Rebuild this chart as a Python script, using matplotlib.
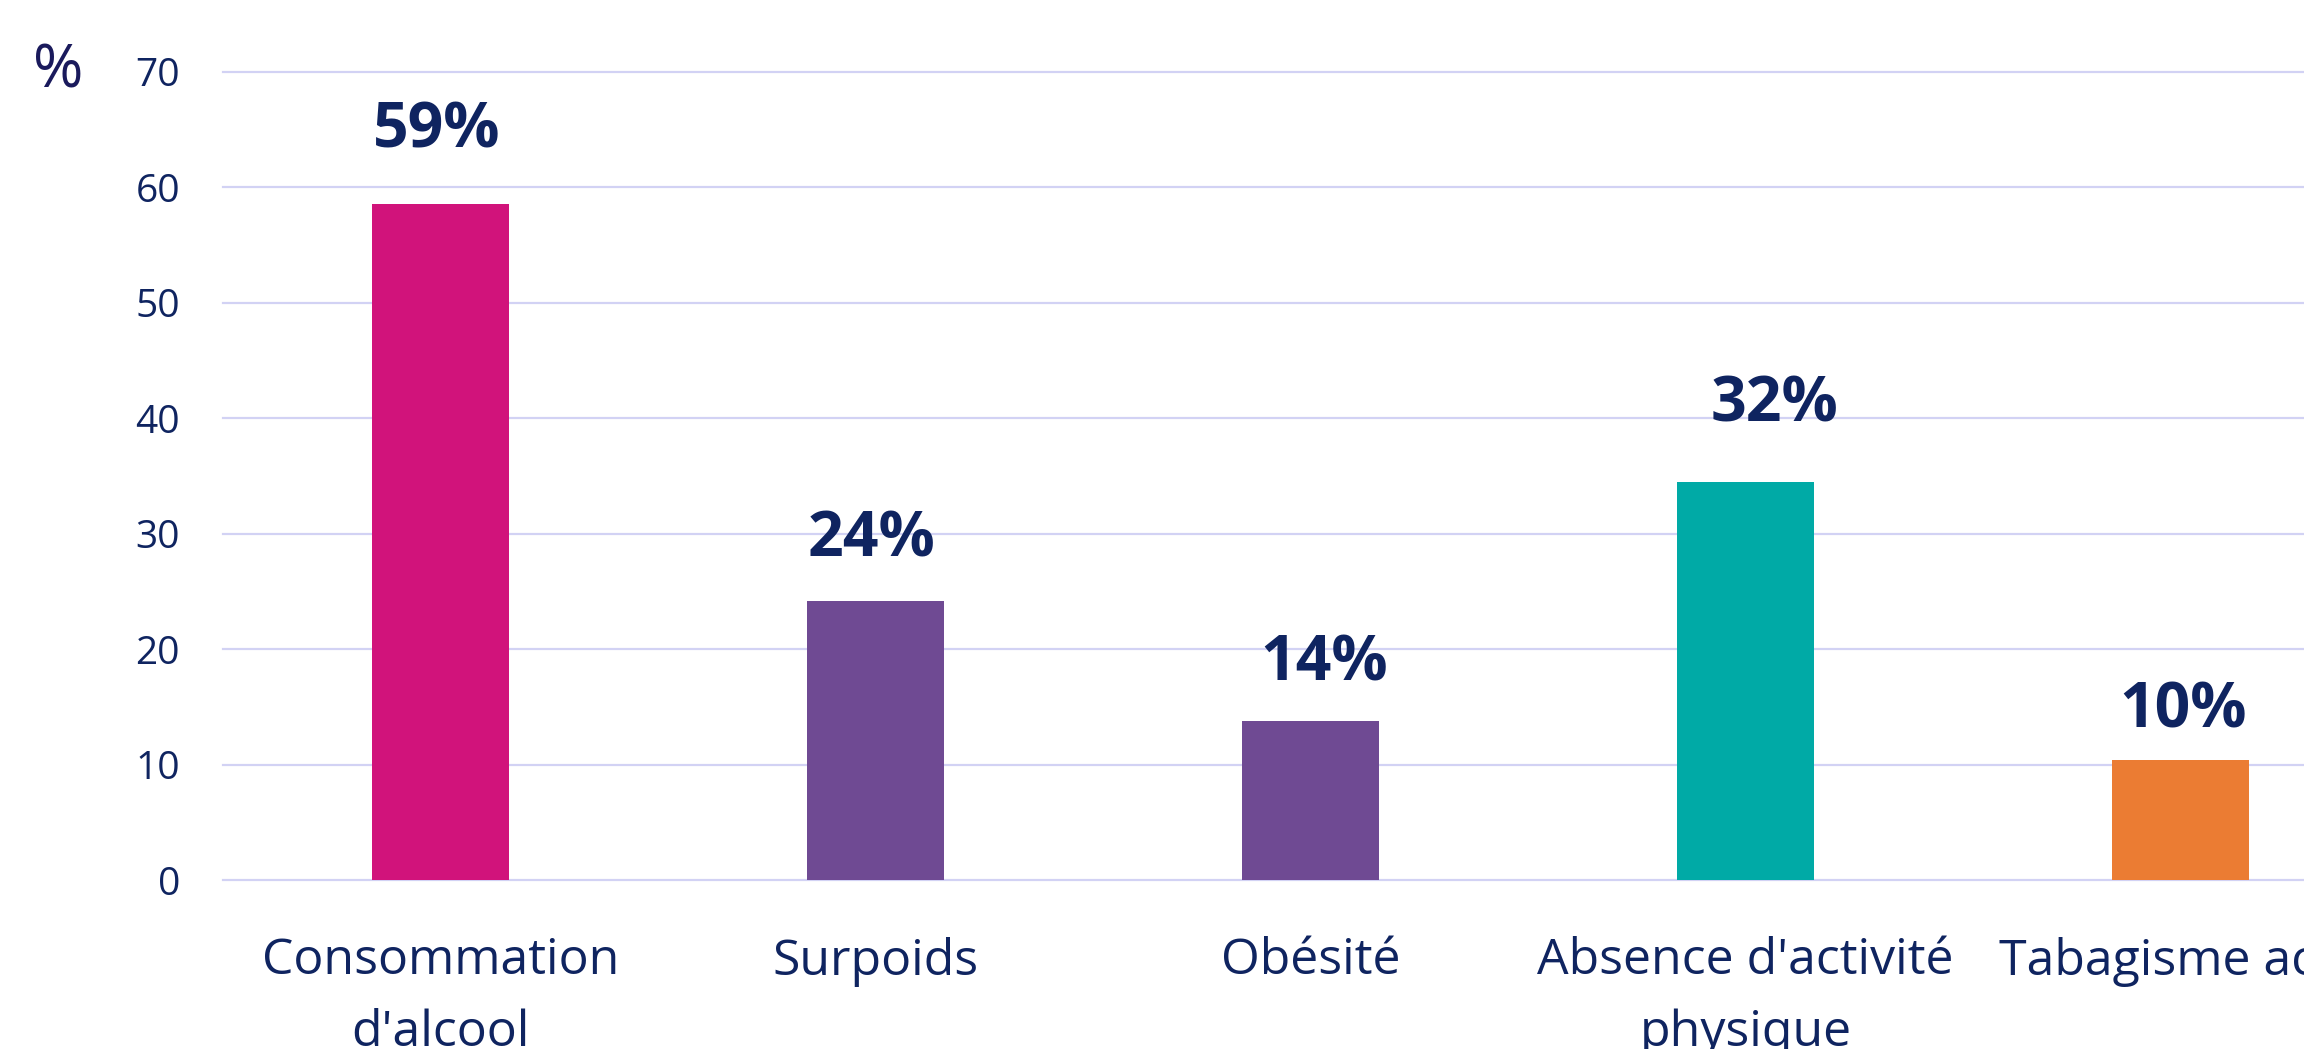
import matplotlib
matplotlib.use("Agg")
import matplotlib.pyplot as plt

categories = [
    "Consommation\nd'alcool",
    "Surpoids",
    "Obésité",
    "Absence d'activité\nphysique",
    "Tabagisme actif",
]
values = [58.6, 24.2, 13.8, 34.5, 10.4]
value_labels = ["59%", "24%", "14%", "32%", "10%"]
bar_colors = ["#D1137B", "#6F4A93", "#6F4A93", "#00AAA6", "#EB7C33"]
y_ticks = [0, 10, 20, 30, 40, 50, 60, 70]

# label placement (points) as laid out by hand in the source chart
label_dx = [-3, -3, 10, 21, 2]
label_dy = [52, 44, 41, 55, 35]

NAVY = "#0F2460"
GRID = "#D2D2F4"

plt.rcParams["font.family"] = ["Open Sans", "DejaVu Sans"]

fig = plt.figure(figsize=(23.04, 10.49), dpi=100)
# the plot area runs past the right edge of the image, as in the source
ax = fig.add_axes([0.0968, 0.1611, 0.944, 0.7703])

x = range(len(categories))
ax.bar(x, values, width=0.315, color=bar_colors, zorder=3)

for xi, v, lab, dx, dy in zip(x, values, value_labels, label_dx, label_dy):
    ax.annotate(lab, (xi, v), xytext=(dx, dy), textcoords="offset points",
                ha="center", va="center", fontsize=45, fontweight="bold",
                color=NAVY)

ax.set_xlim(-0.5, len(categories) - 0.5)
ax.set_ylim(0, 70)
ax.set_yticks(y_ticks)
ax.set_xticks(list(x))
ax.set_xticklabels(categories, fontsize=36, color=NAVY, linespacing=1.58)
ax.tick_params(axis="y", labelsize=28, labelcolor=NAVY, length=0, pad=31)
ax.tick_params(axis="x", length=0, pad=41)
ax.yaxis.grid(True, color=GRID, linewidth=1.6, zorder=0)
ax.set_axisbelow(True)
for s in ax.spines.values():
    s.set_visible(False)
for gl in ax.get_ygridlines():
    gl.set_clip_on(False)

fig.text(0.0145, 0.932, "%", fontsize=44, color="#1A1A5C", ha="left", va="center")

fig.savefig("out.png", dpi=100)
